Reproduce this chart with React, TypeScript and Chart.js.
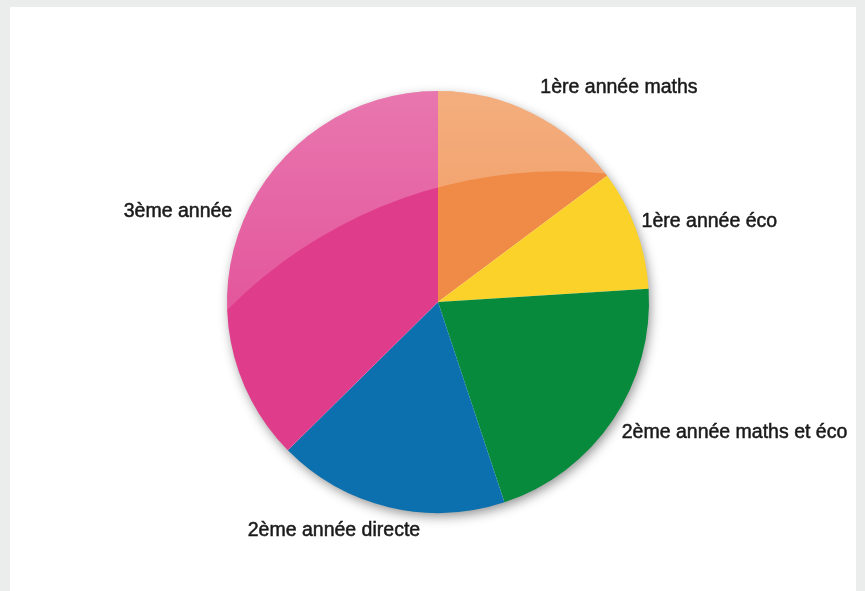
import React, { useEffect, useRef } from "react";
import { Chart, registerables } from "chart.js";

Chart.register(...registerables);

const categories = [
  "1ère année maths",
  "1ère année éco",
  "2ème année maths et éco",
  "2ème année directe",
  "3ème année",
];
const values = [14.8, 9.2, 20.9, 17.7, 37.4];
const colors = ["#ef8b47", "#fbd22a", "#078a3b", "#0b70ad", "#df3c8c"];

// label placement tweaks: [dx, dy, align] relative to a point just outside the arc
const labelTweaks: [number, number, CanvasTextAlign][] = [
  [-3, -4, "left"],
  [-17, 1, "left"],
  [-11, -1, "left"],
  [37, 0, "right"],
  [11, 0, "right"],
];

const piePlugin = {
  id: "pieDecor",
  beforeDatasetsDraw(chart: any) {
    const meta = chart.getDatasetMeta(0);
    const a = meta.data[0];
    if (!a) return;
    const { x, y, outerRadius } = a;
    const ctx = chart.ctx;
    ctx.save();
    ctx.shadowColor = "rgba(0,0,0,0.45)";
    ctx.shadowBlur = 12;
    ctx.shadowOffsetX = 2;
    ctx.shadowOffsetY = 4;
    ctx.beginPath();
    ctx.arc(x, y, outerRadius - 1, 0, Math.PI * 2);
    ctx.fillStyle = "#ffffff";
    ctx.fill();
    ctx.restore();
  },
  afterDatasetsDraw(chart: any) {
    const meta = chart.getDatasetMeta(0);
    const arcs = meta.data;
    if (!arcs.length) return;
    const { x, y, outerRadius: R } = arcs[0];
    const ctx = chart.ctx;
    // gloss highlight on the upper part
    ctx.save();
    ctx.beginPath();
    ctx.arc(x, y, R, 0, Math.PI * 2);
    ctx.clip();
    const g = ctx.createLinearGradient(0, y - R, 0, y);
    g.addColorStop(0, "rgba(255,255,255,0.30)");
    g.addColorStop(1, "rgba(255,255,255,0.14)");
    ctx.fillStyle = g;
    ctx.beginPath();
    ctx.rect(x - R - 2, y - R - 2, 2 * R + 4, 2 * R + 4);
    ctx.arc(x + 0.578 * R, y + 1.6 * R, 2.22 * R, 0, Math.PI * 2);
    ctx.fill("evenodd");
    ctx.restore();

    // labels
    ctx.save();
    ctx.font = "19.5px 'Liberation Sans', Arial, sans-serif";
    ctx.fillStyle = "#1a1a1a";
    ctx.strokeStyle = "#1a1a1a";
    ctx.lineWidth = 0.5;
    ctx.textBaseline = "middle";
    arcs.forEach((arc: any, i: number) => {
      const mid = (arc.startAngle + arc.endAngle) / 2;
      const r = R + 24;
      const px = x + Math.cos(mid) * r;
      const py = y + Math.sin(mid) * r;
      const [dx, dy, align] = labelTweaks[i];
      ctx.textAlign = align;
      const label = chart.data.labels[i];
      ctx.fillText(label, px + dx, py + dy);
      ctx.strokeText(label, px + dx, py + dy);
    });
    ctx.restore();
  },
};

export default function App() {
  const ref = useRef<HTMLCanvasElement | null>(null);
  useEffect(() => {
    if (!ref.current) return;
    const chart = new Chart(ref.current, {
      type: "pie",
      data: {
        labels: categories,
        datasets: [
          {
            data: values,
            backgroundColor: colors,
            borderWidth: 0,
          },
        ],
      },
      options: {
        responsive: false,
        animation: false,
        devicePixelRatio: 1,
        layout: { padding: { left: 227, right: 216, top: 91, bottom: 78 } },
        plugins: {
          legend: { display: false },
          tooltip: { enabled: false },
        },
      },
      plugins: [piePlugin],
    });
    return () => chart.destroy();
  }, []);

  return (
    <div
      style={{
        position: "fixed",
        left: 0,
        top: 0,
        width: 865,
        height: 591,
        background: "#ebeded",
      }}
    >
      <div
        style={{
          position: "absolute",
          left: 10,
          top: 7,
          width: 846,
          height: 584,
          background: "#ffffff",
        }}
      />
      <canvas
        ref={ref}
        width={865}
        height={591}
        style={{ position: "absolute", left: 0, top: 0, width: 865, height: 591 }}
      />
    </div>
  );
}
